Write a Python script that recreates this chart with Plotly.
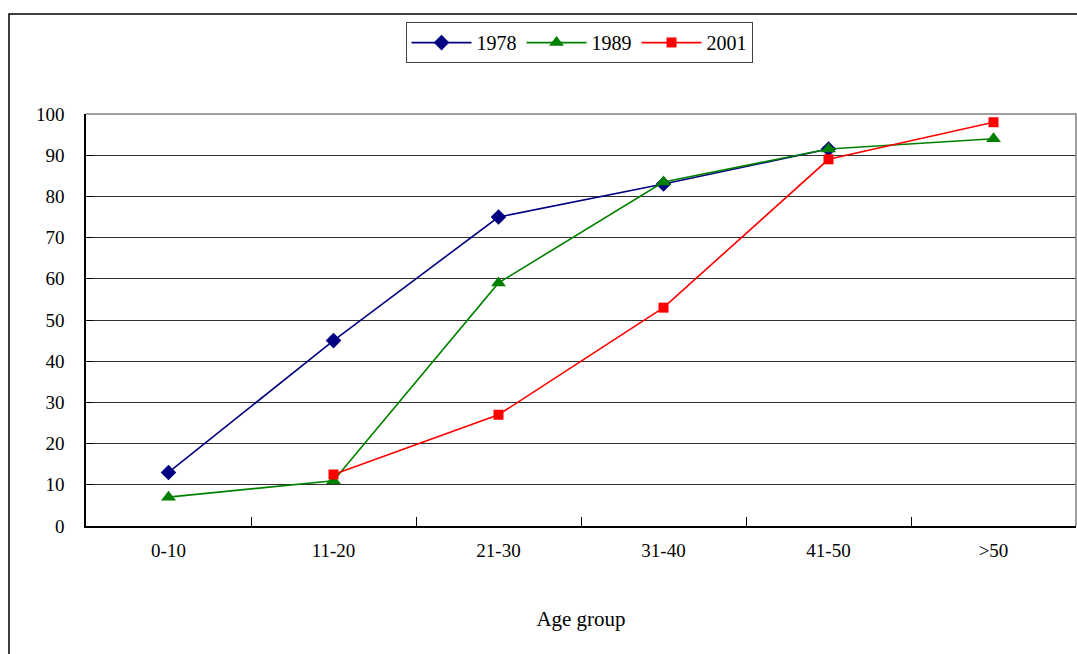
import plotly.graph_objects as go

age_groups = ["0-10", "11-20", "21-30", "31-40", "41-50", ">50"]
y1978 = [13, 45, 75, 83, 91.5, None]
y1989 = [7, 11, 59, 83.5, 91.5, 94]
y2001 = [None, 12.5, 27, 53, 89, 98]
y_ticks = [0, 10, 20, 30, 40, 50, 60, 70, 80, 90, 100]

FONT = "Liberation Serif"

fig = go.Figure()
fig.add_trace(go.Scatter(
    x=age_groups, y=y1978, name="1978", mode="lines+markers",
    line=dict(color="#000080", width=1.6),
    marker=dict(symbol="diamond", size=12, color="#000080"),
))
fig.add_trace(go.Scatter(
    x=age_groups, y=y1989, name="1989", mode="lines+markers",
    line=dict(color="#008000", width=1.6),
    marker=dict(symbol="triangle-up", size=13, color="#008000"),
))
fig.add_trace(go.Scatter(
    x=age_groups, y=y2001, name="2001", mode="lines+markers",
    line=dict(color="#FF0000", width=1.6),
    marker=dict(symbol="square", size=10, color="#FF0000"),
))

# outer chart frame
fig.add_shape(type="rect", xref="paper", yref="paper",
              x0=-0.0778, x1=1.05, y0=-0.4, y1=1.2427,
              line=dict(color="black", width=1.5), layer="below")
# gray top and right edge of the plot area
fig.add_shape(type="path", xref="paper", yref="paper",
              path="M 0,1 L 1,1 L 1,0",
              line=dict(color="#808080", width=1.5))

fig.update_layout(
    width=1077, height=654,
    margin=dict(l=86, r=1, t=114, b=128),
    paper_bgcolor="white", plot_bgcolor="white",
    font=dict(family=FONT, size=19, color="black"),
    showlegend=True,
    legend=dict(
        orientation="h", x=0.498, y=1.223, xanchor="center", yanchor="top",
        bordercolor="#404040", borderwidth=1, font=dict(family=FONT, size=20),
        itemwidth=60, tracegroupgap=0,
    ),
    xaxis=dict(
        type="category", range=[-0.5, 5.5],
        showline=True, linecolor="black", linewidth=1.5,
        ticks="inside", tickson="boundaries", ticklen=9, tickcolor="black",
        showgrid=False, tickfont=dict(size=19), ticklabelstandoff=6,
        title=dict(text="Age group", font=dict(size=21), standoff=52),
    ),
    yaxis=dict(
        range=[0, 100], tickvals=y_ticks,
        showline=True, linecolor="black", linewidth=1.5,
        ticks="inside", ticklen=7, tickcolor="black",
        showgrid=True, gridcolor="#303030", gridwidth=1,
        zeroline=False, tickfont=dict(size=19), ticklabelstandoff=16,
    ),
)

fig.write_html("out.html")
